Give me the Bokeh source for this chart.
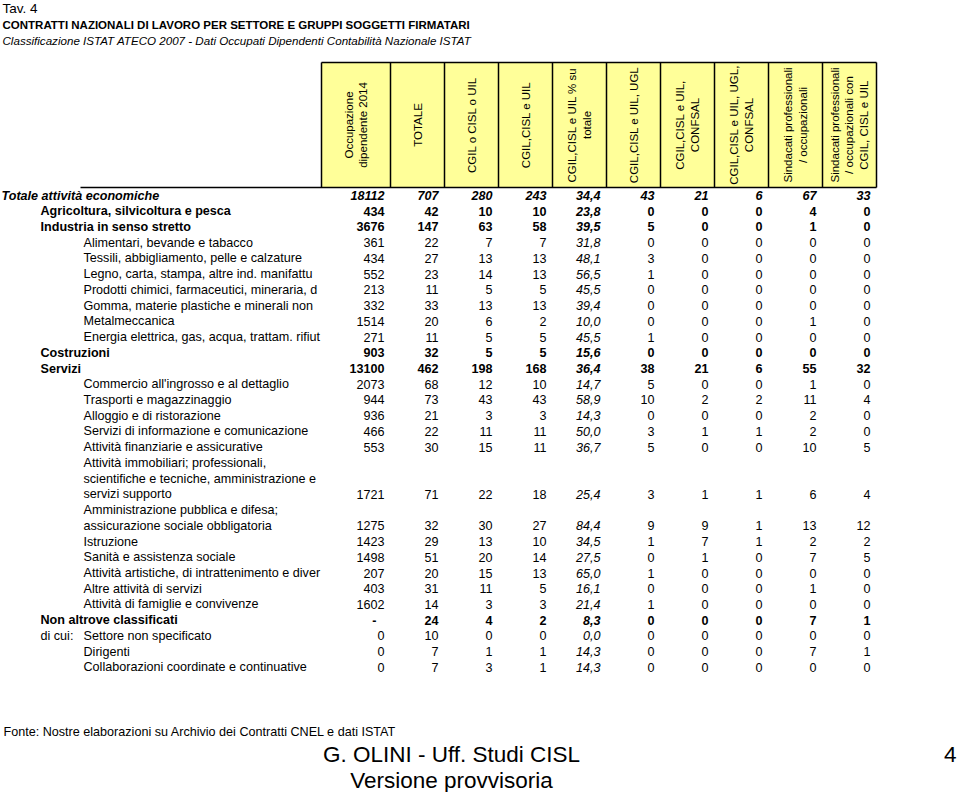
import math
from bokeh.plotting import figure
from bokeh.models import ColumnDataSource, Range1d
from bokeh.core.properties import value, field
from bokeh.embed import file_html
from bokeh.resources import INLINE

# ---------------- data ----------------
tav = "Tav. 4"
title = "CONTRATTI NAZIONALI DI LAVORO PER SETTORE E GRUPPI SOGGETTI FIRMATARI"
subtitle = "Classificazione ISTAT ATECO 2007 - Dati Occupati Dipendenti Contabilità Nazionale ISTAT"
source_note = "Fonte: Nostre elaborazioni su Archivio dei Contratti CNEL e dati ISTAT"
author = "G. OLINI - Uff. Studi CISL"
version = "Versione provvisoria"
page_no = "4"

headers = [
    "Occupazione\ndipendente 2014",
    "TOTALE",
    "CGIL o CISL o UIL",
    "CGIL,CISL e UIL",
    "CGIL,CISL e UIL % su\ntotale",
    "CGIL,CISL e UIL, UGL",
    "CGIL,CISL e UIL,\nCONFSAL",
    "CGIL,CISL e UIL, UGL,\nCONFSAL",
    "Sindacati professionali\n/ occupazionali",
    "Sindacati professionali\n/ occupazionali con\nCGIL, CISL e UIL",
]

labels = [
    "Totale attività economiche",
    "Agricoltura, silvicoltura e pesca",
    "Industria in senso stretto",
    "Alimentari, bevande e tabacco",
    "Tessili, abbigliamento, pelle e calzature",
    "Legno,  carta, stampa, altre ind.  manifattu",
    "Prodotti chimici, farmaceutici, mineraria, d",
    "Gomma, materie plastiche e minerali non",
    "Metalmeccanica",
    "Energia elettrica, gas, acqua, trattam. rifiut",
    "Costruzioni",
    "Servizi",
    "Commercio all'ingrosso e al dettaglio",
    "Trasporti e magazzinaggio",
    "Alloggio e di ristorazione",
    "Servizi di informazione e comunicazione",
    "Attività finanziarie e assicurative",
    "Attività immobiliari; professionali,\nscientifiche e tecniche, amministrazione e\nservizi supporto",
    "Amministrazione pubblica e difesa;\nassicurazione sociale obbligatoria",
    "Istruzione",
    "Sanità e assistenza sociale",
    "Attività artistiche, di intrattenimento e diver",
    "Altre attività di servizi",
    "Attività di famiglie e convivenze",
    "Non altrove classificati",
    "Settore non specificato",
    "Dirigenti",
    "Collaborazioni coordinate e continuative",
]
levels = [0, 1, 1, 2, 2, 2, 2, 2, 2, 2, 1, 1, 2, 2, 2, 2, 2, 2, 2, 2, 2, 2, 2, 2, 1, 2, 2, 2]
prefixes = [""] * 25 + ["di cui:", "", ""]

occupazione = [18112, 434, 3676, 361, 434, 552, 213, 332, 1514, 271, 903, 13100, 2073, 944, 936, 466, 553,
               1721, 1275, 1423, 1498, 207, 403, 1602, None, 0, 0, 0]
totale = [707, 42, 147, 22, 27, 23, 11, 33, 20, 11, 32, 462, 68, 73, 21, 22, 30, 71, 32, 29, 51, 20, 31, 14, 24, 10, 7, 7]
cgil_o = [280, 10, 63, 7, 13, 14, 5, 13, 6, 5, 5, 198, 12, 43, 3, 11, 15, 22, 30, 13, 20, 15, 11, 3, 4, 0, 1, 3]
cgil_e = [243, 10, 58, 7, 13, 13, 5, 13, 2, 5, 5, 168, 10, 43, 3, 11, 11, 18, 27, 10, 14, 13, 5, 3, 2, 0, 1, 1]
perc = [34.4, 23.8, 39.5, 31.8, 48.1, 56.5, 45.5, 39.4, 10.0, 45.5, 15.6, 36.4, 14.7, 58.9, 14.3, 50.0, 36.7,
        25.4, 84.4, 34.5, 27.5, 65.0, 16.1, 21.4, 8.3, 0.0, 14.3, 14.3]
ugl = [43, 0, 5, 0, 3, 1, 0, 0, 0, 1, 0, 38, 5, 10, 0, 3, 5, 3, 9, 1, 0, 1, 0, 1, 0, 0, 0, 0]
confsal = [21, 0, 0, 0, 0, 0, 0, 0, 0, 0, 0, 21, 0, 2, 0, 1, 0, 1, 9, 7, 1, 0, 0, 0, 0, 0, 0, 0]
ugl_confsal = [6, 0, 0, 0, 0, 0, 0, 0, 0, 0, 0, 6, 0, 2, 0, 1, 0, 1, 1, 1, 0, 0, 0, 0, 0, 0, 0, 0]
prof = [67, 4, 1, 0, 0, 0, 0, 0, 1, 0, 0, 55, 1, 11, 2, 2, 10, 6, 13, 2, 7, 0, 1, 0, 7, 0, 7, 0]
prof_con = [33, 0, 0, 0, 0, 0, 0, 0, 0, 0, 0, 32, 0, 4, 0, 0, 5, 4, 12, 2, 5, 0, 0, 0, 1, 0, 1, 0]

columns = [occupazione, totale, cgil_o, cgil_e, perc, ugl, confsal, ugl_confsal, prof, prof_con]
PERC_COL = 4

# ---------------- layout ----------------
FONT = value("Liberation Sans")
W, H = 958, 792
HEAD_LEFT = 321
col_widths = [69] + [54] * 9
HEAD_TOP, HEAD_BOTTOM = 62, 187
RULE_LEFT = 80
FIRST_LINE_Y = 195
LINE_H = 15.73
indent = {0: 1, 1: 40, 2: 83}
label_style = {0: "bold italic", 1: "bold", 2: "normal"}

edges = [HEAD_LEFT]
for w in col_widths:
    edges.append(edges[-1] + w)
HEAD_RIGHT = edges[-1]

p = figure(width=W, height=H, x_range=Range1d(0, W), y_range=Range1d(H, 0),
           output_backend="svg", toolbar_location=None, min_border=0)
p.axis.visible = False
p.grid.visible = False
p.outline_line_color = None
p.background_fill_color = "white"
p.border_fill_color = "white"

# header cells
p.quad(left=edges[:-1], right=edges[1:], top=[HEAD_TOP] * 10, bottom=[HEAD_BOTTOM] * 10,
       fill_color="#FFFF99", line_color=None)
p.segment(x0=edges, y0=[HEAD_TOP] * len(edges), x1=edges, y1=[HEAD_BOTTOM] * len(edges),
          line_color="black", line_width=1.5)
p.segment(x0=[HEAD_LEFT, RULE_LEFT], y0=[HEAD_TOP, HEAD_BOTTOM], x1=[HEAD_RIGHT, HEAD_RIGHT],
          y1=[HEAD_TOP, HEAD_BOTTOM], line_color="black", line_width=1.5)

centers = [(edges[i] + edges[i + 1]) / 2 for i in range(10)]
p.text(x=centers, y=[(HEAD_TOP + HEAD_BOTTOM) / 2] * 10, text=headers, angle=math.pi / 2,
       text_align="center", text_baseline="middle", text_font=FONT, text_font_size="11.5px",
       text_color="black", text_line_height=1.2)

# rows
lx, ly, lt, ls = [], [], [], []
vx, vy, vt, vs = [], [], [], []
line_idx = 0
for i, lab in enumerate(labels):
    parts = lab.split("\n")
    lev = levels[i]
    for j, part in enumerate(parts):
        lx.append(indent[lev])
        ly.append(FIRST_LINE_Y + (line_idx + j) * LINE_H)
        lt.append(part)
        ls.append(label_style[lev])
    if prefixes[i]:
        lx.append(indent[1])
        ly.append(FIRST_LINE_Y + line_idx * LINE_H)
        lt.append(prefixes[i])
        ls.append("normal")
    yv = FIRST_LINE_Y + (line_idx + len(parts) - 1) * LINE_H
    for c, col in enumerate(columns):
        v = col[i]
        if v is None:
            s = "-"
        elif c == PERC_COL:
            s = f"{v:.1f}".replace(".", ",")
        else:
            s = str(v)
        if lev == 0:
            st = "bold italic"
        elif lev == 1:
            st = "bold italic" if c == PERC_COL else "bold"
        else:
            st = "italic" if c == PERC_COL else "normal"
        # a dash sits a little further left, as in the source sheet
        vx.append(edges[c + 1] - (14 if s == "-" else 6))
        vy.append(yv)
        vt.append(s)
        vs.append(st)
    line_idx += len(parts)

lsrc = ColumnDataSource(dict(x=lx, y=ly, text=lt, style=ls))
p.text(x="x", y="y", text="text", source=lsrc, text_font=FONT, text_font_size="12.6px",
       text_font_style=field("style"), text_align="left", text_baseline="middle", text_color="black")
vsrc = ColumnDataSource(dict(x=vx, y=vy, text=vt, style=vs))
p.text(x="x", y="y", text="text", source=vsrc, text_font=FONT, text_font_size="12.6px",
       text_font_style=field("style"), text_align="right", text_baseline="middle", text_color="black")

# titles
p.text(x=[2], y=[8], text=[tav], text_font=FONT, text_font_size="13.5px", text_baseline="middle")
p.text(x=[2], y=[24], text=[title], text_font=FONT, text_font_size="11.5px", text_font_style="bold",
       text_baseline="middle")
p.text(x=[2], y=[40], text=[subtitle], text_font=FONT, text_font_size="11.6px", text_font_style="italic",
       text_baseline="middle")

# footer
p.text(x=[3], y=[731], text=[source_note], text_font=FONT, text_font_size="12.6px", text_baseline="middle")
p.text(x=[451], y=[754], text=[author], text_font=FONT, text_font_size="22.5px", text_align="center",
       text_baseline="middle")
p.text(x=[451], y=[780], text=[version], text_font=FONT, text_font_size="22.5px", text_align="center",
       text_baseline="middle")
p.text(x=[956], y=[754], text=[page_no], text_font=FONT, text_font_size="22.5px", text_align="right",
       text_baseline="middle")

open("out.html", "w").write(file_html(p, INLINE))
